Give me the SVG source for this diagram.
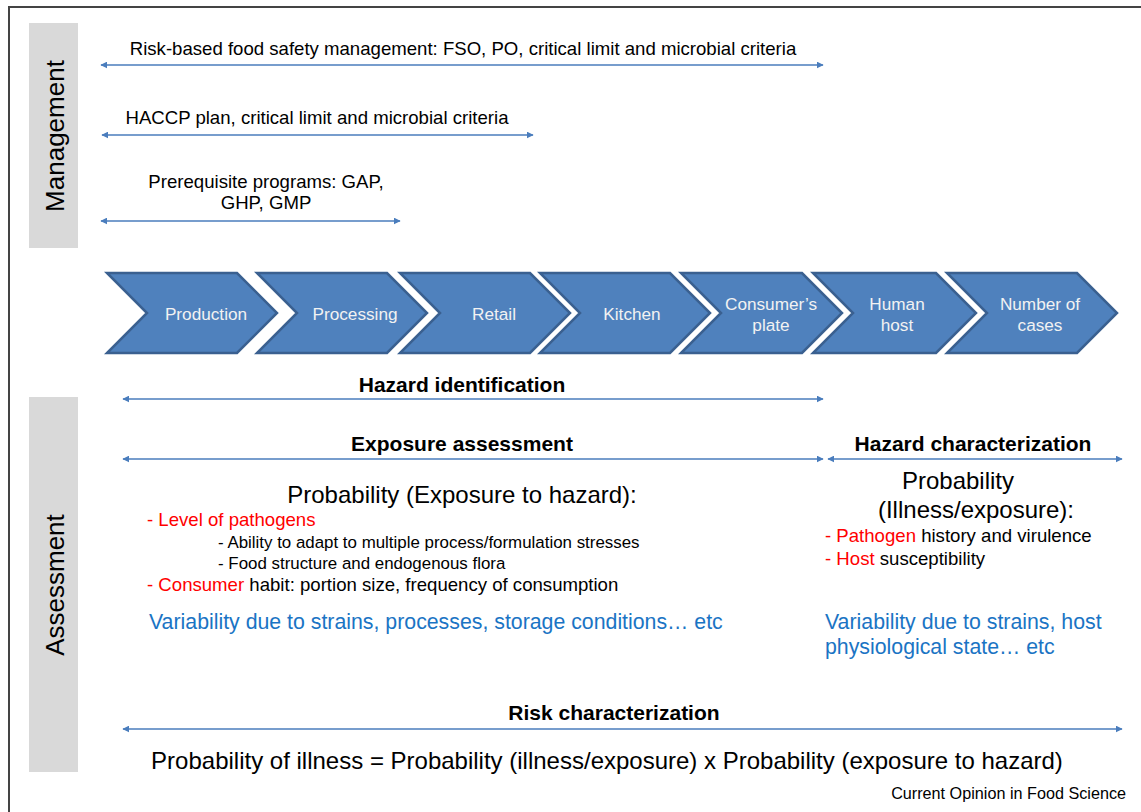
<svg xmlns="http://www.w3.org/2000/svg" width="1141" height="812" viewBox="0 0 1141 812">
<style>
text{font-family:"Liberation Sans",Arial,sans-serif;fill:#000}
.lbl{font-size:18.6px}
.b{font-size:21px;font-weight:bold;text-anchor:middle}
.big{font-size:24px}
.sm{font-size:16.9px}
.red{fill:#ff0000}
.blue{fill:#1a74c4;font-size:21.3px}
.side{font-size:26px;text-anchor:middle}
.chev{fill:#4f81bd;stroke:#3a6090;stroke-width:2.5}
.ct{font-size:17.2px;fill:#f2f2f2;text-anchor:middle}
.arr{stroke:#4a7dbd;stroke-width:1.6;fill:none;marker-start:url(#ah);marker-end:url(#ah)}
.band{fill:#d9d9d9}
</style>
<defs>
<marker id="ah" viewBox="0 0 10 10" refX="9" refY="5" markerWidth="7" markerHeight="7" markerUnits="userSpaceOnUse" orient="auto-start-reverse">
<path d="M0,0 L10,5 L0,10 z" fill="#4a7dbd"/>
</marker>
</defs>
<path d="M9,812 V7 H1141" fill="none" stroke="#444" stroke-width="2"/>
<g id="management-band">
<rect class="band" x="29" y="23" width="49" height="225"/>
<text class="side" transform="translate(64,136) rotate(-90)">Management</text>
</g>
<g id="assessment-band">
<rect class="band" x="29" y="397" width="49" height="375"/>
<text class="side" transform="translate(64,585) rotate(-90)">Assessment</text>
</g>
<g id="connectors">
<line class="arr" x1="101" y1="65" x2="823" y2="65"/>
<line class="arr" x1="102" y1="135" x2="533" y2="135"/>
<line class="arr" x1="101" y1="221" x2="400" y2="221"/>
<line class="arr" x1="123" y1="399" x2="823" y2="399"/>
<line class="arr" x1="123" y1="459" x2="823" y2="459"/>
<line class="arr" x1="828" y1="459" x2="1122" y2="459"/>
<line class="arr" x1="123" y1="729" x2="1122" y2="729"/>
</g>
<g id="mgmt-labels">
<text class="lbl" x="463" y="55" text-anchor="middle">Risk-based food safety management: FSO, PO, critical limit and microbial criteria</text>
<text class="lbl" x="317" y="124" text-anchor="middle">HACCP plan, critical limit and microbial criteria</text>
<text class="lbl" x="266" y="188" text-anchor="middle">Prerequisite programs: GAP,</text>
<text class="lbl" x="266" y="209" text-anchor="middle">GHP, GMP</text>
</g>
<g id="chev-production"><path class="chev" d="M107,273 H237 L277,313 L237,353 H107 L147,313 Z"/><text class="ct" x="206" y="320">Production</text></g>
<g id="chev-processing"><path class="chev" d="M257,273 H387 L427,313 L387,353 H257 L297,313 Z"/><text class="ct" x="355" y="320">Processing</text></g>
<g id="chev-retail"><path class="chev" d="M400,273 H530 L570,313 L530,353 H400 L440,313 Z"/><text class="ct" x="494" y="320">Retail</text></g>
<g id="chev-kitchen"><path class="chev" d="M540,273 H670 L710,313 L670,353 H540 L580,313 Z"/><text class="ct" x="632" y="320">Kitchen</text></g>
<g id="chev-plate"><path class="chev" d="M681,273 H802 L842,313 L802,353 H681 L721,313 Z"/><text class="ct" x="771" y="310">Consumer’s</text><text class="ct" x="771" y="331">plate</text></g>
<g id="chev-host"><path class="chev" d="M813,273 H936 L976,313 L936,353 H813 L853,313 Z"/><text class="ct" x="897" y="310">Human</text><text class="ct" x="897" y="331">host</text></g>
<g id="chev-cases"><path class="chev" d="M947,273 H1077 L1117,313 L1077,353 H947 L987,313 Z"/><text class="ct" x="1040" y="310">Number of</text><text class="ct" x="1040" y="331">cases</text></g>
<g id="hazard-id"><text class="b" x="462" y="392">Hazard identification</text></g>
<g id="exposure">
<text class="b" x="462" y="451">Exposure assessment</text>
<text class="big" x="462" y="503" text-anchor="middle">Probability (Exposure to hazard):</text>
<text class="lbl red" x="147" y="526">- Level of pathogens</text>
<text class="sm" x="218" y="548">- Ability to adapt to multiple process/formulation stresses</text>
<text class="sm" x="218" y="569">- Food structure and endogenous flora</text>
<text class="lbl" x="147" y="591"><tspan class="red">- Consumer</tspan> habit: portion size, frequency of consumption</text>
<text class="blue" x="149" y="629">Variability due to strains, processes, storage conditions… etc</text>
</g>
<g id="hazard-char">
<text class="b" x="973" y="451">Hazard characterization</text>
<text class="big" x="958" y="489" text-anchor="middle">Probability</text>
<text class="big" x="976" y="518" text-anchor="middle">(Illness/exposure):</text>
<text class="lbl" x="825" y="542"><tspan class="red">- Pathogen</tspan> history and virulence</text>
<text class="lbl" x="825" y="565"><tspan class="red">- Host</tspan> susceptibility</text>
<text class="blue" x="825" y="629">Variability due to strains, host</text>
<text class="blue" x="825" y="654">physiological state… etc</text>
</g>
<g id="risk-char">
<text class="b" x="614" y="720">Risk characterization</text>
<text class="big" x="607" y="769" text-anchor="middle">Probability of illness = Probability (illness/exposure) x Probability (exposure to hazard)</text>
</g>
<text x="1126" y="799" font-size="16.2" text-anchor="end">Current Opinion in Food Science</text>
</svg>
